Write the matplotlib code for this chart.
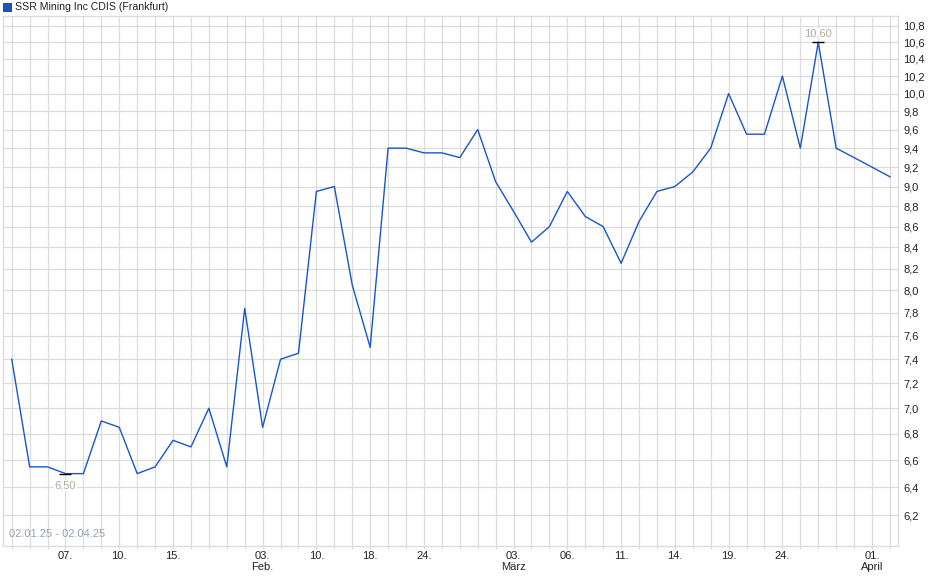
import matplotlib
matplotlib.use("Agg")
import matplotlib.pyplot as plt
from matplotlib.ticker import FixedLocator, FuncFormatter, NullLocator
from matplotlib.patches import Rectangle

plt.rcParams['font.family'] = ['Liberation Sans', 'DejaVu Sans']

# closing prices, one per trading day (Frankfurt), 02.01.25 - 02.04.25
prices = [7.40, 6.55, 6.55, 6.50, 6.50, 6.90, 6.85, 6.50, 6.55, 6.75,
          6.70, 7.00, 6.55, 7.84, 6.85, 7.40, 7.45, 8.95, 9.00, 8.05,
          7.50, 9.40, 9.40, 9.35, 9.35, 9.30, 9.60, 9.05, 8.75, 8.45,
          8.60, 8.95, 8.70, 8.60, 8.25, 8.65, 8.95, 9.00, 9.15, 9.40,
          10.00, 9.55, 9.55, 10.20, 9.40, 10.60, 9.40, 9.30, 9.20, 9.10]

# x tick labels at given day index
label_idx = [3, 6, 9, 14, 17, 20, 23, 28, 31, 34, 37, 40, 43, 48]
label_txt = ["07.", "10.", "15.", "03.\nFeb.", "10.", "18.", "24.",
             "03.\nMärz", "06.", "11.", "14.", "19.", "24.", "01.\nApril"]

y_ticks = [round(6.2 + 0.2 * k, 1) for k in range(24)]

title = "SSR Mining Inc CDIS (Frankfurt)"
period = "02.01.25 - 02.04.25"

line_col = '#1a56c8'
grid_col = '#dcdcdc'
note_col = '#b3a999'

fig = plt.figure(figsize=(9.4, 5.79), dpi=100)
ax = fig.add_axes([0.0035, 0.0575, 0.952, 0.915])

x = list(range(len(prices)))
ax.plot(x, prices, color=line_col, lw=1.0, zorder=3)

ax.set_yscale('log')
ax.set_ylim(5.99, 10.92)
ax.set_xlim(-0.47, len(prices) - 1 + 0.46)

ax.yaxis.set_major_locator(FixedLocator(y_ticks))
ax.yaxis.set_minor_locator(NullLocator())
ax.yaxis.set_major_formatter(FuncFormatter(lambda v, p: f"{v:.1f}".replace('.', ',')))
ax.yaxis.tick_right()
ax.tick_params(axis='y', length=0, pad=3.5, labelsize=8, labelcolor='#222222')

ax.xaxis.set_major_locator(FixedLocator(x))
ax.xaxis.set_minor_locator(NullLocator())
lab = dict(zip(label_idx, label_txt))
ax.set_xticklabels([lab.get(i, "") for i in x])
ax.tick_params(axis='x', length=2, width=1, color=grid_col, pad=1.5,
               labelsize=8, labelcolor='#222222')

ax.grid(True, color=grid_col, lw=0.9, zorder=0)
for s in ax.spines.values():
    s.set_color(grid_col)
    s.set_linewidth(1)

# min / max annotations
i_min = prices.index(min(prices))
i_max = prices.index(max(prices))
ax.plot(i_min, prices[i_min], marker='_', ms=9, mew=1.0, color='black', zorder=4)
ax.plot(i_max, prices[i_max], marker='_', ms=9, mew=1.0, color='black', zorder=4)
ax.annotate(f"{prices[i_min]:.2f}".replace('.', ','), (i_min, prices[i_min]),
            xytext=(0, -8.5), textcoords='offset points', ha='center', va='center',
            fontsize=8, color=note_col, zorder=5,
            bbox=dict(boxstyle='square,pad=0.05', fc='white', ec='none'))
ax.annotate(f"{prices[i_max]:.2f}".replace('.', ','), (i_max, prices[i_max]),
            xytext=(0, 6), textcoords='offset points', ha='center', va='center',
            fontsize=8, color=note_col, zorder=5,
            bbox=dict(boxstyle='square,pad=0.05', fc='white', ec='none'))

ax.text(0.006, 0.012, period, transform=ax.transAxes, fontsize=8,
        color='#95a0b5', ha='left', va='bottom', zorder=5)

# legend-like title at top
fig.patches.append(Rectangle((3 / 940, 1 - 11 / 579), 8 / 940, 8 / 579,
                             transform=fig.transFigure, fc='#1a56c8',
                             ec='#333333', lw=0.6))
fig.text(15 / 940, 1 - 7 / 579, title, fontsize=7.6, color='#222222',
         ha='left', va='center')

fig.savefig("out.png", dpi=100)
